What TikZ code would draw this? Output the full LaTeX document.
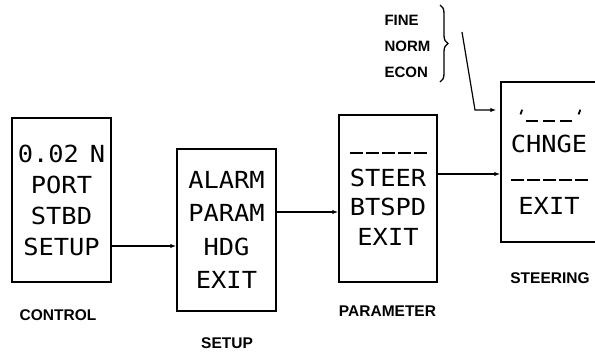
\documentclass[tikz,border=0pt]{standalone}
\usepackage{fontspec}
\setmainfont{Liberation Sans}
\newfontfamily\plotfont[FakeStretch=1.08]{DejaVu Sans Mono}
\usepackage{tikz}
\usetikzlibrary{arrows.meta,positioning,calc,decorations.pathreplacing}

% plotter-style rows of dashes inside the screens
\newcommand\plotdash[1]{\rule[#1]{13pt}{1.6pt}}
\newcommand\dashrow{\plotdash{3pt}\hspace{3pt}\plotdash{3pt}\hspace{3pt}%
  \plotdash{3pt}\hspace{3pt}\plotdash{3pt}\hspace{3pt}\plotdash{3pt}}
\newcommand\tickrow{\rotatebox{-20}{\rule[8pt]{1.8pt}{5pt}}\hspace{3pt}%
  \rule{12pt}{1.6pt}\hspace{5pt}\rule{12pt}{1.6pt}\hspace{5pt}\rule{12pt}{1.6pt}%
  \hspace{3pt}\rotatebox{-20}{\rule[8pt]{1.8pt}{5pt}}}

\begin{document}
\begin{tikzpicture}[
  x=1pt, y=-1pt,
  menu/.style={draw, line width=1.5pt, align=center, inner sep=0pt,
    font=\plotfont\fontsize{23.5}{31}\selectfont},
  caption/.style={font=\bfseries\fontsize{15.5}{18}\selectfont},
  link/.style={->, line width=1.2pt},
  >={Latex[length=6pt,width=4.5pt]}
]
% page frame: the steering box runs off the right edge, so clip there
\path[use as bounding box, clip] (0,0) rectangle (595,354);

% -- the four menu screens, left to right
\node[menu, minimum width=99pt, minimum height=164pt] (control) at (61.5,200)
  {0.02\hspace{11pt}N\\PORT\\STBD\\SETUP};
\node[menu, minimum width=99pt, minimum height=162pt,
  font=\plotfont\fontsize{23.5}{33.5}\selectfont] (setup) at (226.5,230)
  {ALARM\\PARAM\\HDG\\EXIT};
\node[menu, minimum width=98pt, minimum height=167pt,
  font=\plotfont\fontsize{23.5}{29.5}\selectfont] (param) at (388,198.5)
  {\dashrow\\STEER\\BTSPD\\EXIT};
\node[menu, minimum width=96pt, minimum height=160pt] (steer) at (549,162)
  {\tickrow\\CHNGE\\\dashrow\\EXIT};

% -- captions under each screen
\node[caption] (controlcap) at (58,315) {CONTROL};
\node[caption] (setupcap) at (227,343) {SETUP};
\node[caption] (paramcap) at (387.5,311) {PARAMETER};
\node[caption] (steercap) at (550,278) {STEERING};

% -- steering modes, grouped by a brace
\node[caption, font=\bfseries\fontsize{15}{26}\selectfont, align=left,
  anchor=west] (modes) at (381,46) {FINE\\NORM\\ECON};
\draw[line width=1.3pt, decorate, decoration={brace, amplitude=8pt}]
  ([xshift=59pt]modes.west |- 0,5) -- ([xshift=59pt]modes.west |- 0,82);

% -- menu flow: each arrow leaves at the row that selects the next screen
\draw[link] ([yshift=-46pt]control.east) coordinate (c1) -- (c1 -| setup.west);
\draw[link] ([yshift=18pt]setup.east) coordinate (c2) -- (c2 -| param.west);
\draw[link] ([yshift=24.5pt]param.east) coordinate (c3) -- (c3 -| steer.west);

% -- mode list points into the top row of the steering screen
\coordinate (tail) at (462,32);
\coordinate (bend) at (475,110);
\draw[link, shorten >=4pt] (tail) -- (bend) -- (bend -| steer.west);
\end{tikzpicture}
\end{document}
